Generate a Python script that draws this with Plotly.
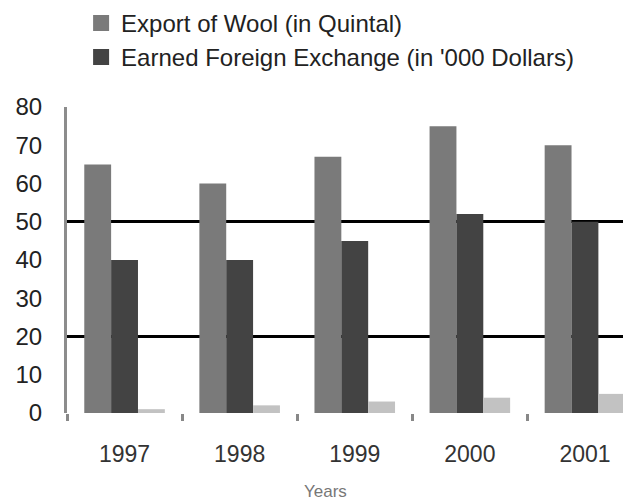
import plotly.graph_objects as go

years = ["1997", "1998", "1999", "2000", "2001"]
wool = [65, 60, 67, 75, 70]
earned = [40, 40, 45, 52, 50]
third = [1, 2, 3, 4, 5]
y_ticks = [0, 10, 20, 30, 40, 50, 60, 70, 80]
grid_vals = [20, 50]
names = ["Export of Wool (in Quintal)", "Earned Foreign Exchange (in '000 Dollars)"]
colors = ["#7a7a7a", "#434343", "#c2c2c2"]

FONT = "Liberation Sans, Arial, sans-serif"

fig = go.Figure()
fig.add_trace(go.Bar(x=years, y=wool, name=names[0], showlegend=False,
                     marker=dict(color=colors[0], line=dict(width=0))))
fig.add_trace(go.Bar(x=years, y=earned, name=names[1], showlegend=False,
                     marker=dict(color=colors[1], line=dict(width=0))))
fig.add_trace(go.Bar(x=years, y=third, name="Years", showlegend=False,
                     marker=dict(color=colors[2], line=dict(width=0))))
# legend swatches (larger squares than the default bar swatch)
for i, (nm, col) in enumerate(zip(names, colors[:2])):
    fig.add_trace(go.Scatter(x=[None], y=[None], mode="markers", name=nm,
                             legendgroup=f"g{i}",
                             marker=dict(symbol="square", size=16, color=col),
                             hoverinfo="skip"))
# invisible helper trace so the overlay grid axis is drawn
fig.add_trace(go.Scatter(x=years, y=third, yaxis="y2", mode="markers",
                         marker=dict(opacity=0), showlegend=False, hoverinfo="skip"))

fig.update_layout(
    width=623, height=495,
    margin=dict(l=59, r=0, t=99, b=90, autoexpand=False),
    paper_bgcolor="white", plot_bgcolor="white",
    font=dict(family=FONT, size=24, color="#222"),
    barmode="group", bargap=0.30, bargroupgap=0,
    showlegend=True,
    legend=dict(x=0.025, y=1.347, xanchor="left", yanchor="top",
                xref="paper", yref="paper",
                font=dict(family=FONT, size=24, color="#222"),
                bgcolor="rgba(0,0,0,0)", traceorder="normal",
                tracegroupgap=4, itemwidth=30),
    xaxis=dict(type="category", range=[-0.5, 4.4], showline=False, showgrid=False,
               zeroline=False, ticks="outside", tickson="boundaries", ticklen=7,
               tickwidth=3, tickcolor="#888", ticklabelstandoff=25,
               tickfont=dict(family=FONT, size=23, color="#333")),
    yaxis=dict(range=[0, 80], tickvals=y_ticks, showgrid=False, zeroline=False,
               showline=True, linecolor="#8c8c8c", linewidth=3, ticks="",
               ticklabelstandoff=17,
               tickfont=dict(family=FONT, size=24, color="#222")),
    yaxis2=dict(range=[0, 80], overlaying="y", tickvals=grid_vals, showgrid=True,
                gridcolor="#000", gridwidth=3, showticklabels=False, zeroline=False,
                showline=False, ticks=""),
    annotations=[dict(text="Years", xref="paper", yref="paper", x=0.459, y=-0.255,
                      xanchor="center", yanchor="middle", showarrow=False,
                      font=dict(family=FONT, size=17, color="#777"))],
)

fig.write_html("out.html")
